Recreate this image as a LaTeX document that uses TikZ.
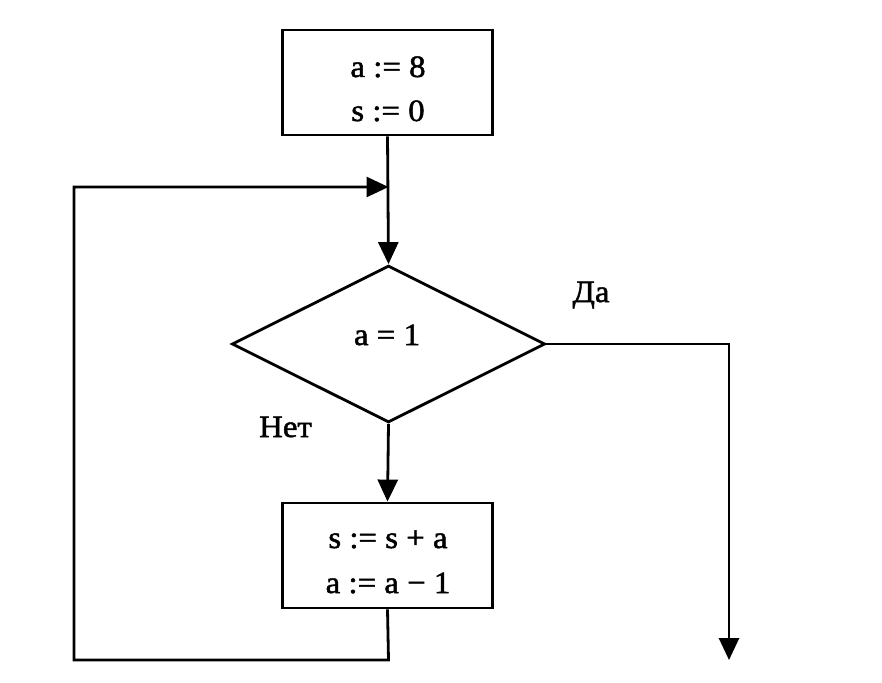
\documentclass[tikz,border=0pt]{standalone}
\usepackage{fontspec}
\setmainfont{Liberation Serif}[FakeBold=1.6,FakeStretch=1.06]
\usetikzlibrary{shapes.geometric,arrows.meta}
\begin{document}
\begin{tikzpicture}[x=1pt,y=-1pt,
  line width=2.8pt,
  every node/.style={font=\fontsize{31}{44}\selectfont},
  procbox/.style={draw,rectangle,minimum width=210pt,minimum height=105pt,inner sep=0pt},
  decis/.style={draw,diamond,minimum width=313pt,minimum height=157pt,inner sep=0pt},
  lbl/.style={inner sep=0pt,anchor=base},
  arr/.style={-{Triangle[length=22pt,width=20pt]}}]
\useasboundingbox (0,0) rectangle (882,682);
\node[procbox] (top) at (387.5,82.5) {};
\node[lbl] (t1) at (388,77) {a := 8};
\node[lbl] (t2) at (388,121) {s := 0};
\node[decis] (d) at (388.5,344) {};
\node[lbl] (dt) at (387,345) {a = 1};
\node[procbox] (bot) at (387.5,555.5) {};
\node[lbl] (b1) at (388,548) {s := s + a};
\node[lbl] (b2) at (388,593) {a := a − 1};
\node[lbl] (da) at (591,302) {Да};
\node[lbl] (net) at (285.5,437) {Нет};
\coordinate (j) at (388.5,187);
\coordinate (lb) at (388.5,660);
\coordinate (ll) at (74,660);
\coordinate (lt) at (74,187);
\coordinate (rc) at (729,344);
\coordinate (re) at (729,660);
\draw[arr] (top.south) -- (d.north);
\draw[arr] (d.south) -- (bot.north);
\draw[arr] (bot.south) -- (lb) -- (ll) -- (lt) -- (j);
\draw[arr] (d.east) -- (rc) -- (re);
\end{tikzpicture}
\end{document}
